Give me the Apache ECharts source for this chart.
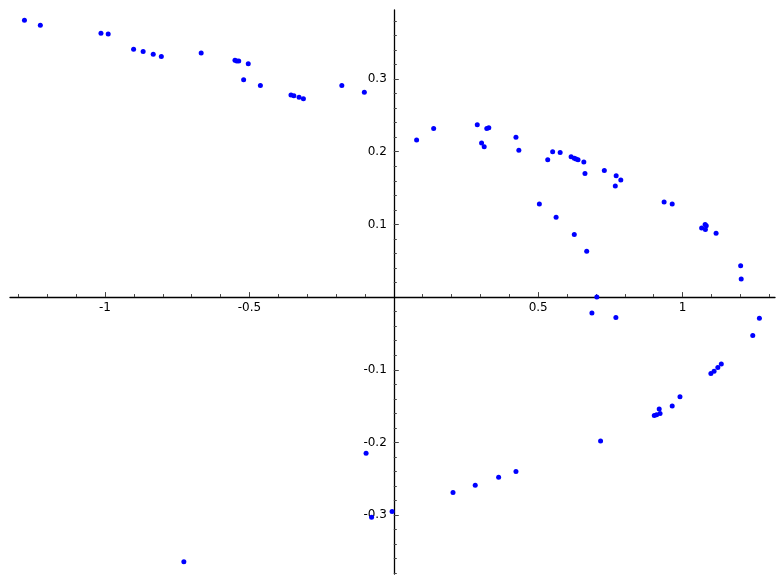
<!DOCTYPE html>
<html>
<head>
<meta charset="utf-8">
<script src="https://cdn.jsdelivr.net/npm/echarts@6/dist/echarts.min.js"></script>
<style>
  html, body { margin: 0; padding: 0; background: #fff; }
  #chart { width: 784px; height: 584px; }
</style>
</head>
<body>
<div id="chart"></div>
<script>
// points, [x, y]
const points = [
  [-1.279, 0.381], [-1.224, 0.374], [-1.014, 0.363], [-0.989, 0.362],
  [-0.901, 0.341], [-0.868, 0.338], [-0.833, 0.334], [-0.805, 0.331],
  [-0.667, 0.336], [-0.550, 0.326], [-0.544, 0.325], [-0.537, 0.325],
  [-0.504, 0.321], [-0.520, 0.299], [-0.462, 0.291], [-0.356, 0.278],
  [-0.346, 0.277], [-0.328, 0.275], [-0.313, 0.273], [-0.180, 0.291],
  [-0.102, 0.282],
  [0.079, 0.216], [0.138, 0.232], [0.289, 0.237], [0.304, 0.212],
  [0.313, 0.207], [0.322, 0.232], [0.329, 0.233], [0.423, 0.220],
  [0.433, 0.202], [0.533, 0.189], [0.550, 0.200], [0.576, 0.199],
  [0.614, 0.193], [0.625, 0.191], [0.631, 0.190], [0.638, 0.189],
  [0.658, 0.186], [0.662, 0.170], [0.729, 0.174], [0.770, 0.167],
  [0.786, 0.161], [0.767, 0.153],
  [0.504, 0.128], [0.562, 0.110], [0.625, 0.086], [0.668, 0.063],
  [0.703, 0.000],
  [0.936, 0.131], [0.964, 0.128], [1.066, 0.095], [1.078, 0.100],
  [1.082, 0.098], [1.079, 0.093], [1.116, 0.088], [1.201, 0.043],
  [1.203, 0.025],
  [0.686, -0.022], [0.769, -0.028], [1.266, -0.029], [1.243, -0.053],
  [1.098, -0.105], [1.109, -0.102], [1.122, -0.097], [1.134, -0.092],
  [0.991, -0.137], [0.964, -0.150], [0.902, -0.163], [0.910, -0.162],
  [0.919, -0.154], [0.922, -0.160], [0.716, -0.198],
  [0.423, -0.240], [0.363, -0.248], [0.282, -0.259], [0.205, -0.269],
  [-0.096, -0.215], [-0.077, -0.303], [-0.006, -0.295], [-0.727, -0.364]
];

const xRange = [-1.329, 1.320];
const yRange = [-0.381, 0.395];

const xMajor = [-1, -0.5, 0.5, 1];
const xMinor = [-1.3, -1.2, -1.1, -0.9, -0.8, -0.7, -0.6, -0.4, -0.3, -0.2, -0.1,
  0.1, 0.2, 0.3, 0.4, 0.6, 0.7, 0.8, 0.9, 1.1, 1.2, 1.3];
const yMajor = [-0.3, -0.2, -0.1, 0.1, 0.2, 0.3];
const yMinor = [-0.38, -0.36, -0.34, -0.32, -0.28, -0.26, -0.24, -0.22,
  -0.18, -0.16, -0.14, -0.12, -0.08, -0.06, -0.04, -0.02,
  0.02, 0.04, 0.06, 0.08, 0.12, 0.14, 0.16, 0.18,
  0.22, 0.24, 0.26, 0.28, 0.32, 0.34, 0.36, 0.38];

const W = 784, H = 584;
const gridBox = { left: 10, right: 9, top: 10, bottom: 10 };
const gw = W - gridBox.left - gridBox.right;
const gh = H - gridBox.top - gridBox.bottom;
// shift the axes from the grid edges onto the zero lines
const xOffset = -gh * (0 - yRange[0]) / (yRange[1] - yRange[0]);
const yOffset = -gw * (0 - xRange[0]) / (xRange[1] - xRange[0]);

function makeAxis(range, major, minor, isMain, pos, offset) {
  return {
    type: 'value',
    position: pos,
    offset: offset,
    min: range[0],
    max: range[1],
    splitLine: { show: false },
    axisLine: {
      show: isMain,
      onZero: false,
      lineStyle: { color: '#000', width: 1.3 }
    },
    axisTick: {
      show: true,
      inside: true,
      length: isMain ? 5 : 3,
      customValues: isMain ? major : minor,
      lineStyle: { color: '#444', width: 1 }
    },
    axisLabel: {
      show: isMain,
      customValues: major,
      margin: pos === 'bottom' ? 5 : 7,
      color: '#000',
      fontSize: 12,
      fontFamily: 'DejaVu Sans'
    }
  };
}

const chart = echarts.init(document.getElementById('chart'));
chart.setOption({
  animation: false,
  grid: Object.assign({ outerBoundsMode: 'none', containLabel: false }, gridBox),
  xAxis: [
    makeAxis(xRange, xMajor, xMinor, true, 'bottom', xOffset),
    makeAxis(xRange, xMajor, xMinor, false, 'bottom', xOffset)
  ],
  yAxis: [
    makeAxis(yRange, yMajor, yMinor, true, 'left', yOffset),
    makeAxis(yRange, yMajor, yMinor, false, 'left', yOffset)
  ],
  series: [{
    type: 'scatter',
    data: points,
    symbolSize: 5,
    itemStyle: { color: '#0000ff', opacity: 1 }
  }]
});
</script>
</body>
</html>
